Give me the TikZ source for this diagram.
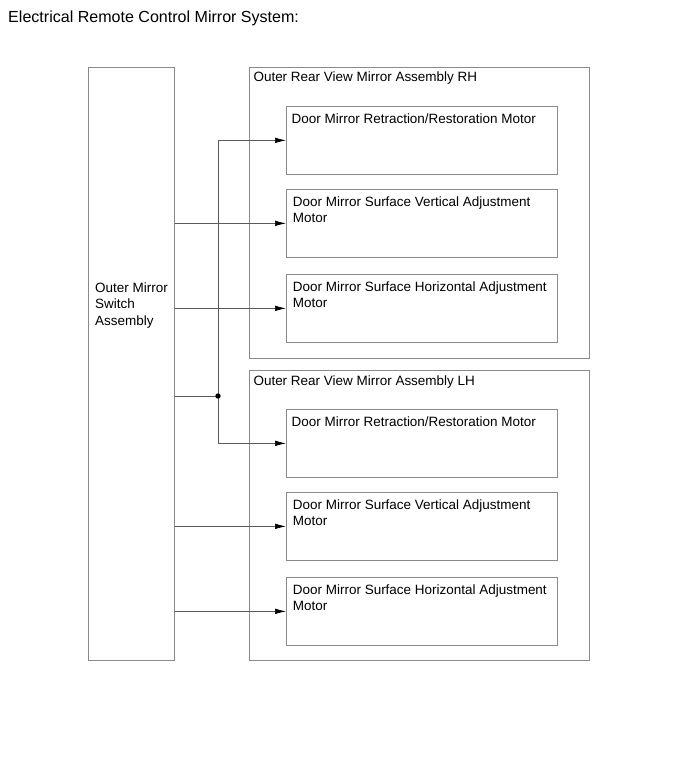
\documentclass[tikz,border=0pt]{standalone}
\usepackage{fontspec}
\setmainfont{Liberation Sans}
\usetikzlibrary{arrows.meta, positioning}
\definecolor{FrameGray}{HTML}{8A8A8A}
\definecolor{WireGray} {HTML}{5A5A5A}

\begin{document}
\begin{tikzpicture}[
  x=0.03cm, y=-0.03cm,
  frame/.style = {draw=FrameGray, line width=0.6pt, inner sep=0pt, anchor=north west},
  motor/.style = {frame, minimum width=8.13cm, minimum height=2.04cm},
  txt/.style   = {font=\fontsize{11.5}{13.9}\selectfont, inner sep=0pt,
                  anchor=north west, align=left},
  wire/.style  = {draw=WireGray, line width=0.6pt},
  arr/.style   = {wire, -{Latex[black, length=3.3mm, width=1.7mm]}},
]
\useasboundingbox (0,0) rectangle (690,757);
\node[anchor=base west, inner sep=0pt, font=\fontsize{13.7}{16}\selectfont] (title) at (8,22)
  {Electrical Remote Control Mirror System:};
% switch
\node[frame, minimum width=2.58cm, minimum height=17.79cm] (sw) at (88,67) {};
\node[txt] (swtxt) at (95,282.5) {Outer Mirror\\Switch\\Assembly};
% mirror assemblies
\node[frame, minimum width=10.2cm, minimum height=8.73cm] (rh) at (249,67) {};
\node[txt] (rhtxt) at (253.3,72) {Outer Rear View Mirror Assembly RH};
\node[frame, minimum width=10.2cm, minimum height=8.7cm] (lh) at (249,370) {};
\node[txt] (lhtxt) at (253.3,375) {Outer Rear View Mirror Assembly LH};
% motors RH
\node[motor] (rh1) at (286,106) {};
\node[motor] (rh2) at (286,189) {};
\node[motor] (rh3) at (286,274) {};
\node[txt] (rh1txt) at (291.5,113.5) {Door Mirror Retraction/Restoration Motor};
\node[txt] (rh2txt) at (292.7,196.5) {Door Mirror Surface Vertical Adjustment\\Motor};
\node[txt] (rh3txt) at (292.7,281.5) {Door Mirror Surface Horizontal Adjustment\\Motor};
% motors LH
\node[motor] (lh1) at (286,409) {};
\node[motor] (lh2) at (286,492) {};
\node[motor] (lh3) at (286,577) {};
\node[txt] (lh1txt) at (291.5,416.5) {Door Mirror Retraction/Restoration Motor};
\node[txt] (lh2txt) at (292.7,499.5) {Door Mirror Surface Vertical Adjustment\\Motor};
\node[txt] (lh3txt) at (292.7,584.5) {Door Mirror Surface Horizontal Adjustment\\Motor};
% wiring
\coordinate (jn) at (218,396);
\foreach \b in {rh2,rh3,lh2,lh3}
  \draw[arr] (sw.east |- \b.west) -- (\b.west);
\draw[wire] (sw.east |- jn) -- (jn);
\draw[arr] (jn) |- (rh1.west);
\draw[arr] (jn) |- (lh1.west);
\fill (jn) circle[radius=2.3pt];
\end{tikzpicture}
\end{document}
